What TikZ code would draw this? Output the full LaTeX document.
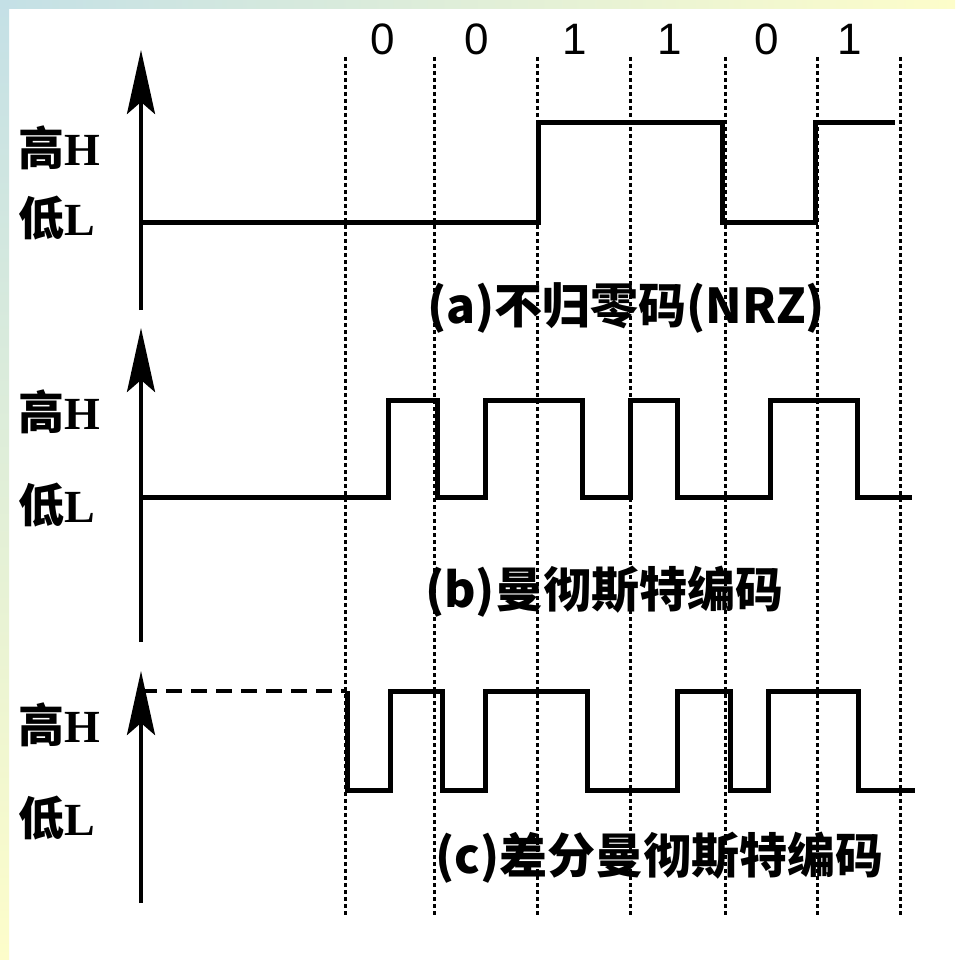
\documentclass[tikz,border=0pt]{standalone}
\usepackage{fontspec}
\setmainfont{Liberation Serif}
\newfontfamily\cjk{Noto Sans CJK SC}
\newfontfamily\digitfont{Liberation Sans}
\usetikzlibrary{arrows.meta}
\definecolor{frameblue}{RGB}{196,224,230}
\definecolor{frameyellow}{RGB}{253,253,202}
\begin{document}
\begin{tikzpicture}[x=1pt,y=-1pt,
  signal/.style={line width=5pt, line join=miter},
  axisline/.style={line width=4pt, -{Stealth[length=64pt,width=28pt,inset=12pt]}},
  gridline/.style={line width=3pt, dash pattern=on 4pt off 3pt, black},
  refline/.style={line width=4pt, dash pattern=on 16pt off 9pt},
  level/.style={font=\bfseries\fontsize{46}{50}\selectfont, inner sep=0pt, anchor=west},
  bit/.style={font=\digitfont\fontsize{44}{48}\selectfont, inner sep=0pt},
  caption/.style={font=\cjk\bfseries\fontsize{48}{52}\selectfont, inner sep=0pt, anchor=west}]

% page and frame
\useasboundingbox (0,0) rectangle (955,960);
\fill[white] (0,0) rectangle (955,960);
\shade[left color=frameblue, right color=frameyellow] (0,0) rectangle (955,9);
\shade[top color=frameblue, bottom color=frameyellow] (0,0) rectangle (9,960);

% bit cell boundaries
\foreach \x/\n in {345/g0,434/g1,537/g2,630/g3,725/g4,817/g5,900/g6}{
  \coordinate (\n top) at (\x,57);
  \coordinate (\n bot) at (\x,915);
  \draw[gridline] (\n top) -- (\n bot);
}

% bit values
\foreach \x/\b/\n in {383/0/b0,477/0/b1,575/1/b2,670/1/b3,767/0/b4,850/1/b5}{
  \node[bit] (\n) at (\x,39) {\b};
}

% axes
\coordinate (aTop) at (141,50);  \coordinate (aBot) at (141,310);
\coordinate (bTop) at (141,328); \coordinate (bBot) at (141,642);
\coordinate (cTop) at (141,671); \coordinate (cBot) at (141,903);
\draw[axisline] (aBot) -- (aTop);
\draw[axisline] (bBot) -- (bTop);
\draw[axisline] (cBot) -- (cTop);

% level labels
\node[level] (aH) at (18,148) {{\cjk 高}H};
\node[level] (aL) at (18,218) {{\cjk 低}L};
\node[level] (bH) at (18,412) {{\cjk 高}H};
\node[level] (bL) at (18,505) {{\cjk 低}L};
\node[level] (cH) at (18,725) {{\cjk 高}H};
\node[level] (cL) at (18,818) {{\cjk 低}L};

% (a) NRZ
\draw[signal] (141,222) -- (538,222) -- (538,123) -- (722,123) -- (722,222)
  -- (815,222) -- (815,123) -- (895,123);

% (b) Manchester
\draw[signal] (141,497) -- (388,497) -- (388,400) -- (437,400) -- (437,497)
  -- (485,497) -- (485,400) -- (582,400) -- (582,497) -- (630,497)
  -- (630,400) -- (677,400) -- (677,497) -- (770,497) -- (770,400)
  -- (857,400) -- (857,497) -- (912,497);

% (c) differential Manchester
\draw[refline] (141,691) -- (347,691);
\draw[signal] (347,691) -- (347,790) -- (390,790) -- (390,691) -- (442,691)
  -- (442,790) -- (485,790) -- (485,691) -- (587,691) -- (587,790)
  -- (677,790) -- (677,691) -- (730,691) -- (730,790) -- (768,790)
  -- (768,691) -- (858,691) -- (858,790) -- (915,790);

% captions
\node[caption] (capA) at (427,308) {(a)不归零码(NRZ)};
\node[caption] (capB) at (425,592) {(b)曼彻斯特编码};
\node[caption] (capC) at (435,858) {(c)差分曼彻斯特编码};
\end{tikzpicture}
\end{document}
